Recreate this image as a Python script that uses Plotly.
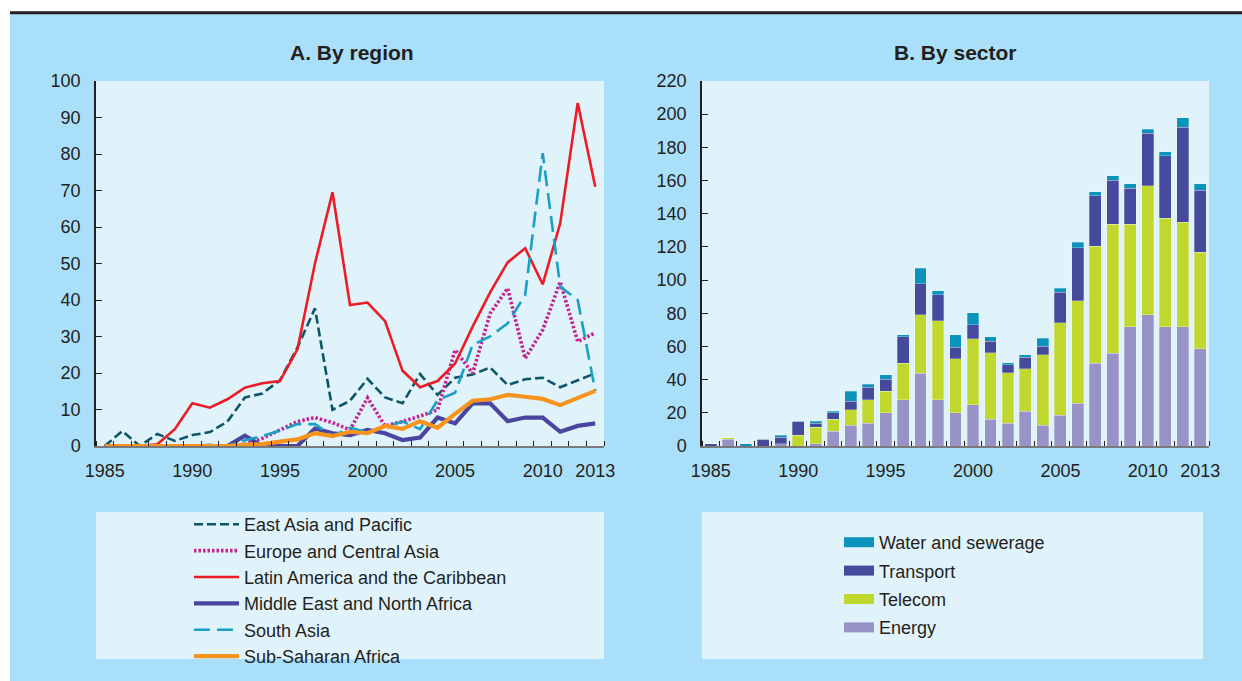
import plotly.graph_objects as go

W, H = 1242, 681

years = list(range(1985, 2014))
x_tick_vals = [1985, 1990, 1995, 2000, 2005, 2010, 2013]
x_tick_text = ["1985", "1990", "1995", "2000", "2005", "2010", "2013"]

east_asia = [0, 4.1, 0, 3.3, 1.4, 3.0, 3.8, 6.7, 13.3, 14.4, 18.0, 27.0, 37.7, 9.9, 12.4,
             18.4, 13.3, 11.7, 19.7, 14.0, 18.7, 19.6, 21.5, 16.7, 18.3, 18.7, 16.1, 18.0, 19.9]
europe = [0, 0, 0, 0, 0, 0, 0, 0, 0.5, 2.1, 4.4, 6.7, 7.8, 6.4, 4.4,
          13.2, 5.5, 6.7, 8.2, 9.9, 26.3, 19.9, 36.3, 43.2, 24.0, 31.8, 45.0, 28.6, 31.0]
latam = [0, 0, 0, 0.5, 4.6, 11.7, 10.5, 12.8, 16.0, 17.2, 17.8, 26.5, 50.0, 69.5, 38.6,
         39.3, 34.2, 20.6, 16.1, 17.8, 22.6, 32.7, 42.1, 50.3, 54.2, 44.3, 61.0, 94.0, 71.0]
mena = [0, 0, 0, 0, 0, 0, 0, 0, 2.8, 0, 0, 0, 4.8, 3.5, 3.0,
        4.4, 3.5, 1.6, 2.3, 7.8, 6.2, 11.7, 11.7, 6.8, 7.8, 7.8, 3.9, 5.5, 6.2]
south_asia = [0, 0, 0, 0, 0, 0, 0.3, 0, 1.6, 2.7, 4.2, 6.0, 6.0, 2.7, 5.0,
              3.7, 5.3, 6.7, 4.6, 12.6, 14.6, 27.7, 30.0, 33.6, 41.4, 80.2, 43.7, 40.0, 15.1]
ssa = [0, 0, 0, 0, 0, 0, 0, 0, 0.3, 0.5, 1.2, 1.8, 3.5, 2.7, 3.9,
       3.5, 5.5, 4.7, 6.8, 5.0, 8.8, 12.4, 12.8, 14.0, 13.5, 12.9, 11.2, 13.2, 15.1]

energy = [0, 4.0, 0, 0, 1.4, 0, 1.4, 9.0, 12.4, 13.8, 19.9, 28.0, 44.0, 28.0, 19.9,
          24.9, 16.0, 13.8, 21.0, 12.4, 18.5, 25.9, 50.0, 56.0, 72.0, 79.2, 72.0, 72.0, 58.6]
telecom = [0, 1.4, 0, 0, 0, 6.4, 10.0, 7.0, 9.6, 14.2, 13.0, 22.0, 35.2, 47.6, 32.7,
           39.7, 40.2, 30.3, 25.5, 42.6, 55.7, 61.8, 70.4, 77.8, 61.8, 77.7, 65.4, 62.8, 58.2]
transport = [1.5, 0, 0, 4.0, 3.8, 8.4, 2.4, 3.9, 5.0, 7.5, 7.2, 16.0, 18.5, 15.7, 7.0,
             8.4, 7.0, 4.8, 7.0, 5.0, 18.5, 31.7, 30.3, 26.5, 21.7, 31.5, 37.5, 57.2, 37.5]
water = [0, 0, 1.5, 0, 1.2, 0, 1.0, 1.1, 6.0, 1.6, 2.9, 1.2, 9.4, 2.4, 7.6,
         7.2, 2.8, 1.2, 1.5, 5.0, 2.4, 3.4, 2.6, 2.6, 2.6, 2.4, 2.6, 6.0, 3.8]

FONT = "Liberation Sans, Arial, Helvetica, sans-serif"
TXT = "#231f20"
PANEL = "#aadff9"
PLOTBG = "#e0f3fb"


def px(x):
    return x / W


def py(y):
    return 1 - y / H


fig = go.Figure()

region_styles = [
    ("East Asia and Pacific", east_asia, "#0e5667", 2.6, "9px,4px"),
    ("Europe and Central Asia", europe, "#c4258f", 3.6, "2.5px,2px"),
    ("Latin America and the Caribbean", latam, "#ed1c24", 2.6, "solid"),
    ("Middle East and North Africa", mena, "#4a46a0", 4.2, "solid"),
    ("South Asia", south_asia, "#1aa0c4", 2.6, "16px,7px"),
    ("Sub-Saharan Africa", ssa, "#f7941d", 4.2, "solid"),
]
for name, vals, col, w, dash in region_styles:
    fig.add_trace(go.Scatter(x=years, y=vals, name=name, mode="lines",
                             line=dict(color=col, width=w, dash=dash),
                             xaxis="x", yaxis="y", legend="legend"))

sector_styles = [
    ("Energy", energy, "#9893c6"),
    ("Telecom", telecom, "#c0d82e"),
    ("Transport", transport, "#454a9c"),
    ("Water and sewerage", water, "#0a93bb"),
]
for name, vals, col in sector_styles:
    fig.add_trace(go.Bar(x=years, y=vals, name=name, marker=dict(color=col,
                         line=dict(color="rgba(255,255,255,0.45)", width=0.6)),
                         xaxis="x2", yaxis="y2", showlegend=False))
# legend entries for sectors (drawn as thick line swatches), top of stack listed first
for name, vals, col in reversed(sector_styles):
    fig.add_trace(go.Scatter(x=[None], y=[None], name=name, mode="lines",
                             line=dict(color=col, width=10), legendgroup=name,
                             xaxis="x2", yaxis="y2", legend="legend2"))

xaxis_common = dict(
    range=[1984.5, 2013.5], tickvals=x_tick_vals, ticktext=x_tick_text,
    ticks="", showgrid=False, zeroline=False, showline=True, automargin=False,
    linecolor="#7a7a7a", linewidth=2,
    tickfont=dict(family=FONT, size=18, color=TXT), ticklabelstandoff=7,
    minor=dict(tick0=1984.5, dtick=1, ticks="inside", ticklen=5, tickwidth=1,
               tickcolor=TXT, showgrid=False),
)
yaxis_common = dict(
    showgrid=False, zeroline=False, showline=True, linecolor=TXT, linewidth=1.5,
    ticks="inside", ticklen=6, tickwidth=1.2, tickcolor=TXT, automargin=False,
    tickfont=dict(family=FONT, size=18, color=TXT), ticklabelstandoff=10,
)

ydom = [py(446), py(81)]
fig.update_layout(
    width=W, height=H, margin=dict(l=0, r=0, t=0, b=0, autoexpand=False),
    paper_bgcolor=PANEL, plot_bgcolor=PLOTBG,
    barmode="stack", bargap=0.32,
    font=dict(family=FONT, color=TXT, size=18),
    xaxis=dict(domain=[px(96), px(604)], anchor="y", **xaxis_common),
    yaxis=dict(domain=ydom, anchor="x", range=[0, 100], dtick=10, **yaxis_common),
    xaxis2=dict(domain=[px(702), px(1209)], anchor="y2", **xaxis_common),
    yaxis2=dict(domain=ydom, anchor="x2", range=[0, 220], dtick=20, **yaxis_common),
    legend=dict(x=px(189), y=py(506), xanchor="left", yanchor="top",
                bgcolor="rgba(0,0,0,0)", font=dict(family=FONT, size=18, color=TXT),
                itemwidth=45, tracegroupgap=0, traceorder="normal"),
    legend2=dict(x=px(839), y=py(524), xanchor="left", yanchor="top",
                 bgcolor="rgba(0,0,0,0)", font=dict(family=FONT, size=18, color=TXT),
                 itemwidth=30, traceorder="grouped", tracegroupgap=2),
    shapes=[
        dict(type="rect", xref="paper", yref="paper", x0=px(96), x1=px(604),
             y0=py(659), y1=py(512), fillcolor=PLOTBG, line=dict(width=0), layer="below"),
        dict(type="rect", xref="paper", yref="paper", x0=px(702), x1=px(1203),
             y0=py(659), y1=py(512), fillcolor=PLOTBG, line=dict(width=0), layer="below"),
        dict(type="rect", xref="paper", yref="paper", x0=0, x1=px(10),
             y0=0, y1=1, fillcolor="white", line=dict(width=0), layer="above"),
        dict(type="rect", xref="paper", yref="paper", x0=0, x1=1,
             y0=py(12), y1=1, fillcolor="white", line=dict(width=0), layer="above"),
        dict(type="line", xref="paper", yref="paper", x0=px(10), x1=1,
             y0=py(12.8), y1=py(12.8), line=dict(color=TXT, width=3), layer="above"),
    ],
    annotations=[
        dict(text="<b>A. By region</b>", x=px(352), y=py(53), xref="paper", yref="paper",
             showarrow=False, font=dict(family=FONT, size=21, color=TXT),
             xanchor="center", yanchor="middle"),
        dict(text="<b>B. By sector</b>", x=px(955), y=py(53), xref="paper", yref="paper",
             showarrow=False, font=dict(family=FONT, size=21, color=TXT),
             xanchor="center", yanchor="middle"),
    ],
)

fig.write_html("out.html", config={"displayModeBar": False},
               post_script="document.body.style.margin='0';document.body.style.overflow='hidden';")
